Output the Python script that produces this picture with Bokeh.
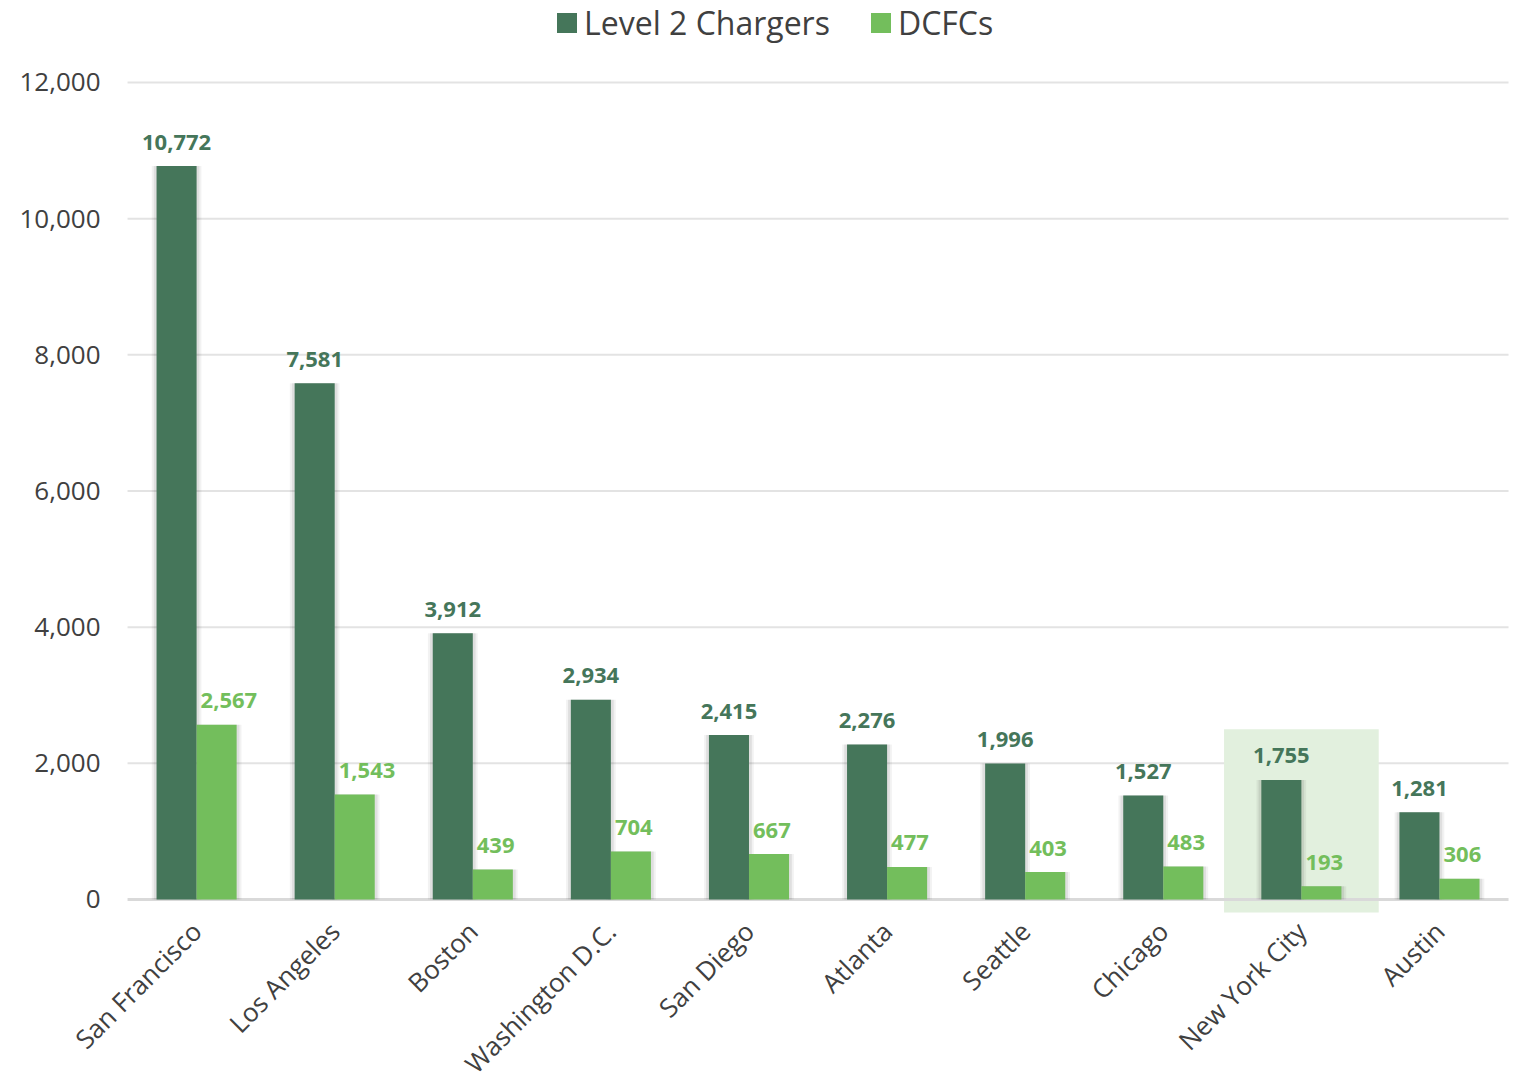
from bokeh.plotting import figure
from bokeh.models import (ColumnDataSource, Range1d, FixedTicker,
                          NumeralTickFormatter, Legend, LegendItem)
from bokeh.transform import dodge
from bokeh.embed import file_html
from bokeh.resources import INLINE
from bokeh.core.properties import value
import math

cities = ["San Francisco", "Los Angeles", "Boston", "Washington D.C.", "San Diego",
          "Atlanta", "Seattle", "Chicago", "New York City", "Austin"]
level2 = [10772, 7581, 3912, 2934, 2415, 2276, 1996, 1527, 1755, 1281]
dcfc = [2567, 1543, 439, 704, 667, 477, 403, 483, 193, 306]
y_ticks = [0, 2000, 4000, 6000, 8000, 10000, 12000]
highlight_city = "New York City"

DARK = "#45765a"
LIGHT = "#73be5c"
TXT = "#404040"
FONT = "Open Sans"

W, H = 1513, 1083
n = len(cities)
xc = [i + 0.5 for i in range(n)]          # category centres on the x scale
src = ColumnDataSource(dict(
    xc=xc, city=cities, l2=level2, dc=dcfc,
    l2_lbl=[f"{v:,}" for v in level2],
    dc_lbl=[f"{v:,}" for v in dcfc],
))

x_end = n + 0.036
p = figure(x_range=Range1d(-0.92, x_end),
           y_range=Range1d(-2703, 13204),
           width=W, height=H, output_backend="svg", toolbar_location=None,
           min_border_left=0, min_border_right=0, min_border_top=0,
           min_border_bottom=0)
p.outline_line_color = None
p.background_fill_color = "white"

# gridlines (across the category area)
p.segment(x0=0, x1=n, y0=y_ticks[1:], y1=y_ticks[1:],
          line_color="#e3e3e3", line_width=2)

# highlight band
hx = xc[cities.index(highlight_city)]
p.rect(x=[hx], y=[(2500 - 190) / 2], width=1.12, height=2690,
       fill_color="#e2f0de", line_color=None)

# zero line
p.segment(x0=0, x1=n, y0=0, y1=0, line_color="#d9d9d9", line_width=3)

bw = 0.29
# soft shadows
for extra, a in [(0.07, 0.05), (0.04, 0.08)]:
    p.vbar(x=dodge("xc", -bw / 2), top="l2", width=bw + extra,
           source=src, fill_color="black", fill_alpha=a, line_color=None)
    p.vbar(x=dodge("xc", bw / 2), top="dc", width=bw + extra,
           source=src, fill_color="black", fill_alpha=a, line_color=None)

r1 = p.vbar(x=dodge("xc", -bw / 2), top="l2", width=bw,
            source=src, fill_color=DARK, line_color=None)
r2 = p.vbar(x=dodge("xc", bw / 2), top="dc", width=bw,
            source=src, fill_color=LIGHT, line_color=None)

p.text(x=dodge("xc", -bw / 2), y="l2", text="l2_lbl", source=src,
       text_align="center", text_baseline="alphabetic", y_offset=-24,
       text_font=value(FONT), text_font_style="bold", text_font_size="22px",
       text_color=DARK)
p.text(x="xc", y="dc", text="dc_lbl", source=src,
       text_align="left", text_baseline="alphabetic", x_offset=4, y_offset=-24,
       text_font=value(FONT), text_font_style="bold", text_font_size="22px",
       text_color=LIGHT)

# y axis drawn at the left edge of the first category
p.yaxis.fixed_location = 0
p.yaxis.ticker = FixedTicker(ticks=y_ticks)
p.yaxis.formatter = NumeralTickFormatter(format="0,0")
p.yaxis.axis_line_color = None
p.yaxis.major_tick_line_color = None
p.yaxis.minor_tick_line_color = None
p.yaxis.major_label_standoff = 21
p.yaxis.major_label_text_font = FONT
p.yaxis.major_label_text_font_size = "26px"
p.yaxis.major_label_text_color = TXT

# x axis (category names) drawn at y = 0
p.xaxis.fixed_location = 0
p.xaxis.ticker = FixedTicker(ticks=xc)
p.xaxis.major_label_overrides = {x: c for x, c in zip(xc, cities)}
p.xaxis.axis_line_color = None
p.xaxis.major_tick_line_color = None
p.xaxis.minor_tick_line_color = None
p.xaxis.major_label_orientation = math.pi / 4
p.xaxis.major_label_standoff = 21
p.xaxis.major_label_text_font = FONT
p.xaxis.major_label_text_font_size = "26px"
p.xaxis.major_label_text_color = TXT

p.xgrid.grid_line_color = None
p.ygrid.grid_line_color = None

legend = Legend(items=[LegendItem(label="Level 2 Chargers", renderers=[r1]),
                       LegendItem(label="DCFCs", renderers=[r2])],
                orientation="horizontal", location=(554, H - 44),
                label_text_font=FONT, label_text_font_size="32px",
                label_text_color=TXT, glyph_width=25, glyph_height=25,
                label_standoff=5, spacing=38, padding=0, margin=0,
                border_line_color=None, background_fill_alpha=0)
p.add_layout(legend)

open("out.html", "w").write(file_html(p, INLINE))
